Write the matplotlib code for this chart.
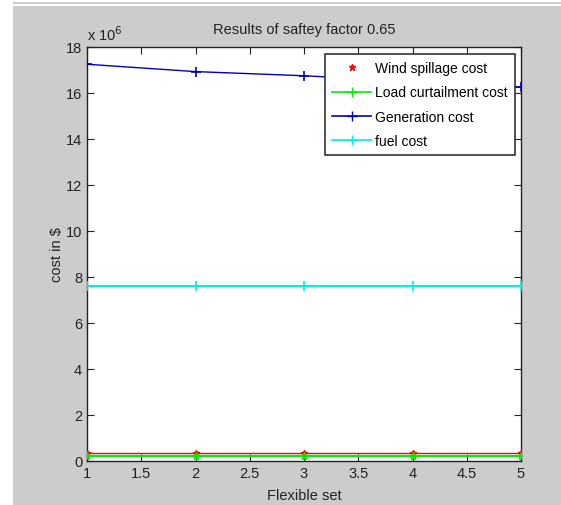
import matplotlib
matplotlib.use("Agg")
import matplotlib.pyplot as plt
from matplotlib.patches import Rectangle
from matplotlib.lines import Line2D

# Flexible set index and costs (in units of 1e6 $)
flexible_set = [1, 2, 3, 4, 5]
wind_spillage = [0.35, 0.35, 0.35, 0.35, 0.35]
load_curtailment = [0.2, 0.2, 0.2, 0.2, 0.2]
generation = [17.25, 16.93, 16.75, 16.5, 16.25]
fuel = [7.6, 7.6, 7.6, 7.6, 7.6]

x_ticks = [1, 1.5, 2, 2.5, 3, 3.5, 4, 4.5, 5]
y_ticks = [0, 2, 4, 6, 8, 10, 12, 14, 16, 18]

plt.rcParams['font.family'] = ['Liberation Sans', 'DejaVu Sans']

W, H = 561, 506
fig = plt.figure(figsize=(W / 100, H / 100), dpi=100)
fig.patch.set_facecolor('white')

# grey window background with a thin strip near the top
fig.add_artist(Rectangle((13 / W, 0), 1 - 13 / W, 1 - 7 / H,
                         transform=fig.transFigure, facecolor='#cccccc',
                         edgecolor='none', zorder=-10))
fig.add_artist(Rectangle((13 / W, 1 - 5 / H), 1 - 13 / W, 2 / H,
                         transform=fig.transFigure, facecolor='#cccccc',
                         edgecolor='none', zorder=-10))

left, right, top, bottom = 87, 521, 48, 462
ax = fig.add_axes([left / W, 1 - bottom / H, (right - left) / W, (bottom - top) / H])
ax.set_facecolor('white')

ax.plot(flexible_set, wind_spillage, color='red', lw=1.0, zorder=3)
ax.plot(flexible_set, wind_spillage, color='red', marker='*', ls='none', ms=5, zorder=4)
ax.plot(flexible_set, load_curtailment, color='#00ee00', lw=1.5, marker='*', ms=6, zorder=5)
ax.plot(flexible_set, generation, color='#0000bb', lw=1.0, marker='+', ms=7, mew=1.2, zorder=3)
ax.plot(flexible_set, fuel, color='#00eeee', lw=1.5, marker='+', ms=7, mew=1.2, zorder=3)

ax.set_xlim(1, 5)
ax.set_ylim(0, 18)
ax.set_xticks(x_ticks)
ax.set_xticklabels(['1', '1.5', '2', '2.5', '3', '3.5', '4', '4.5', '5'])
ax.set_yticks(y_ticks)
ax.set_yticklabels([str(v) for v in y_ticks])
ax.tick_params(direction='in', length=5, labelsize=10.5, colors='#222222',
               top=True, right=True)
for s in ax.spines.values():
    s.set_color('#222222')
    s.set_linewidth(1.0)

ax.set_xlabel('Flexible set', fontsize=10.5, color='#222222', labelpad=6)
ax.set_ylabel('cost in $', fontsize=10.5, color='#222222', labelpad=1)
ax.set_title('Results of saftey factor 0.65', fontsize=10.5, color='#222222', pad=10)
ax.text(0.0, 1.01, r'x 10$^6$', transform=ax.transAxes, fontsize=10.5,
        color='#222222', ha='left', va='bottom')

handles = [
    Line2D([], [], color='red', marker='*', ls='none', ms=5),
    Line2D([], [], color='#00ee00', marker='+', lw=1.2, ms=7),
    Line2D([], [], color='#0000bb', marker='+', lw=1.2, ms=7),
    Line2D([], [], color='#00eeee', marker='+', lw=1.2, ms=7),
]
labels = ['Wind spillage cost', 'Load curtailment cost', 'Generation cost', 'fuel cost']
leg = ax.legend(handles, labels, loc='upper right', bbox_to_anchor=(0.986, 0.983),
                borderaxespad=0, fontsize=10, frameon=True, fancybox=False,
                framealpha=1, edgecolor='#333333', handlelength=2.8,
                borderpad=0.5, labelspacing=0.75, handletextpad=0.3)
leg.get_frame().set_linewidth(1.2)

fig.savefig('out.png', dpi=100, facecolor=fig.get_facecolor())
